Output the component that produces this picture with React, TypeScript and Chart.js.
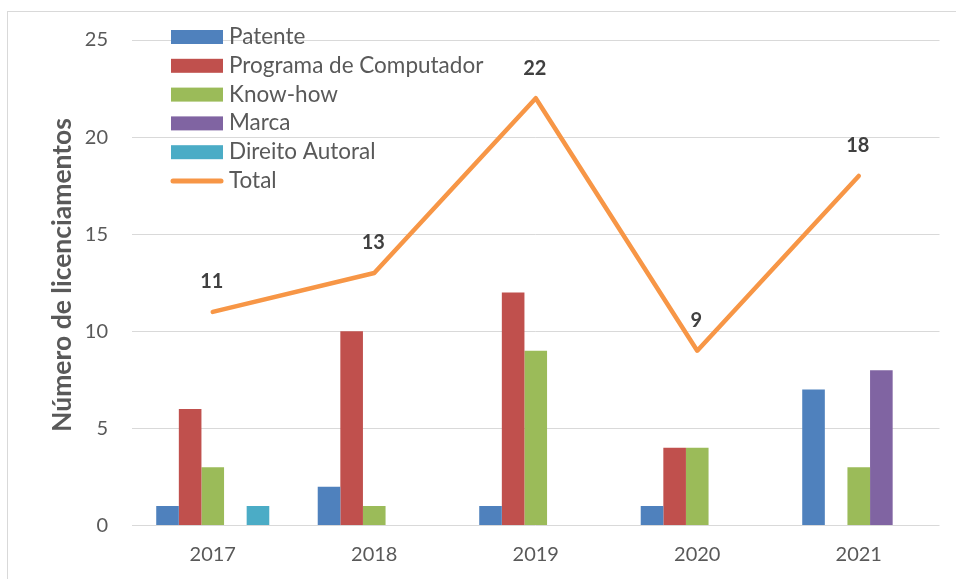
import React, { useEffect, useRef } from "react";
import { Chart, registerables } from "chart.js";

Chart.register(...registerables);

const years = ["2017", "2018", "2019", "2020", "2021"];
const patente = [1, 2, 1, 1, 7];
const programa = [6, 10, 12, 4, null];
const knowHow = [3, 1, 9, 4, 3];
const marca = [null, null, null, null, 8];
const direitoAutoral = [1, null, null, null, null];
const total = [11, 13, 22, 9, 18];
const seriesNames = ["Patente", "Programa de Computador", "Know-how", "Marca", "Direito Autoral", "Total"];
const seriesColors = ["#4F81BD", "#C0504D", "#9BBB59", "#8064A2", "#4BACC6", "#F79646"];
const yMin = 0;
const yMax = 25;
const yStep = 5;
const yTitle = "Número de licenciamentos";

const FONT = "Lato, 'Noto Sans', sans-serif";

const decor = {
  id: "decor",
  beforeDraw(chart: any) {
    const ctx = chart.ctx;
    ctx.save();
    ctx.fillStyle = "#ffffff";
    ctx.fillRect(0, 0, chart.width, chart.height);
    ctx.strokeStyle = "#D9D9D9";
    ctx.lineWidth = 1;
    ctx.strokeRect(7.5, 11.5, chart.width + 10, chart.height + 10);
    ctx.restore();
  },
  afterDatasetsDraw(chart: any) {
    const ctx = chart.ctx;
    const idx = chart.data.datasets.findIndex((d: any) => d.type === "line");
    const meta = chart.getDatasetMeta(idx);
    ctx.save();
    ctx.font = `bold 20px ${FONT}`;
    ctx.fillStyle = "#404040";
    ctx.textAlign = "center";
    ctx.textBaseline = "middle";
    meta.data.forEach((pt: any, i: number) => {
      ctx.fillText(String(chart.data.datasets[idx].data[i]), pt.x - 1, pt.y - 30);
    });
    ctx.restore();
  },
  afterDraw(chart: any) {
    const ctx = chart.ctx;
    ctx.save();
    // legend
    ctx.font = `22.5px ${FONT}`;
    ctx.textBaseline = "alphabetic";
    ctx.textAlign = "left";
    chart.data.datasets.forEach((ds: any, i: number) => {
      const base = 44 + i * 28.8;
      if (ds.type === "line") {
        ctx.strokeStyle = ds.borderColor;
        ctx.lineWidth = 5;
        ctx.lineCap = "round";
        ctx.beginPath();
        ctx.moveTo(173, base - 7);
        ctx.lineTo(221, base - 7);
        ctx.stroke();
      } else {
        ctx.fillStyle = ds.backgroundColor;
        ctx.fillRect(171, base - 14, 52, 14);
      }
      ctx.fillStyle = "#595959";
      ctx.fillText(ds.label, 229, base);
    });
    // y title
    ctx.translate(71, 275);
    ctx.rotate(-Math.PI / 2);
    ctx.font = `bold 26.5px ${FONT}`;
    ctx.fillStyle = "#595959";
    ctx.textAlign = "center";
    ctx.textBaseline = "alphabetic";
    ctx.fillText(yTitle, 0, 0);
    ctx.restore();
  },
};

export default function App() {
  const ref = useRef<HTMLCanvasElement | null>(null);
  useEffect(() => {
    if (!ref.current) return;
    const barSeries = [patente, programa, knowHow, marca, direitoAutoral];
    const datasets: any[] = barSeries.map((d, i) => ({
      type: "bar",
      label: seriesNames[i],
      data: d,
      backgroundColor: seriesColors[i],
      borderWidth: 0,
      categoryPercentage: 0.7,
      barPercentage: 1,
      order: 1,
    }));
    datasets.push({
      type: "line",
      label: seriesNames[5],
      data: total,
      borderColor: seriesColors[5],
      backgroundColor: seriesColors[5],
      borderWidth: 4.5,
      borderCapStyle: "round",
      borderJoinStyle: "round",
      pointRadius: 0,
      tension: 0,
      order: 0,
    });
    const chart = new Chart(ref.current, {
      type: "bar",
      data: { labels: years, datasets },
      plugins: [decor],
      options: {
        responsive: false,
        animation: false,
        layout: { padding: { left: 0, top: 40, right: 16.5, bottom: 0 } },
        plugins: { legend: { display: false }, tooltip: { enabled: false }, title: { display: false } },
        scales: {
          x: {
            grid: { display: false, drawTicks: false },
            border: { display: false },
            ticks: { color: "#595959", font: { family: FONT, size: 20 }, padding: 17 },
            afterFit: (s: any) => { s.height = 53.5; },
          },
          y: {
            min: yMin,
            max: yMax,
            ticks: { stepSize: yStep, color: "#595959", font: { family: FONT, size: 20 }, padding: 24 },
            grid: { color: "#D9D9D9", lineWidth: 1, drawTicks: false },
            border: { display: false },
            afterFit: (s: any) => { s.width = 132; },
          },
        },
      },
    });
    return () => chart.destroy();
  }, []);
  return (
    <div style={{ position: "fixed", left: 0, top: 0, width: 956, height: 579 }}>
      <canvas ref={ref} width={956} height={579} style={{ display: "block", width: 956, height: 579 }} />
    </div>
  );
}
